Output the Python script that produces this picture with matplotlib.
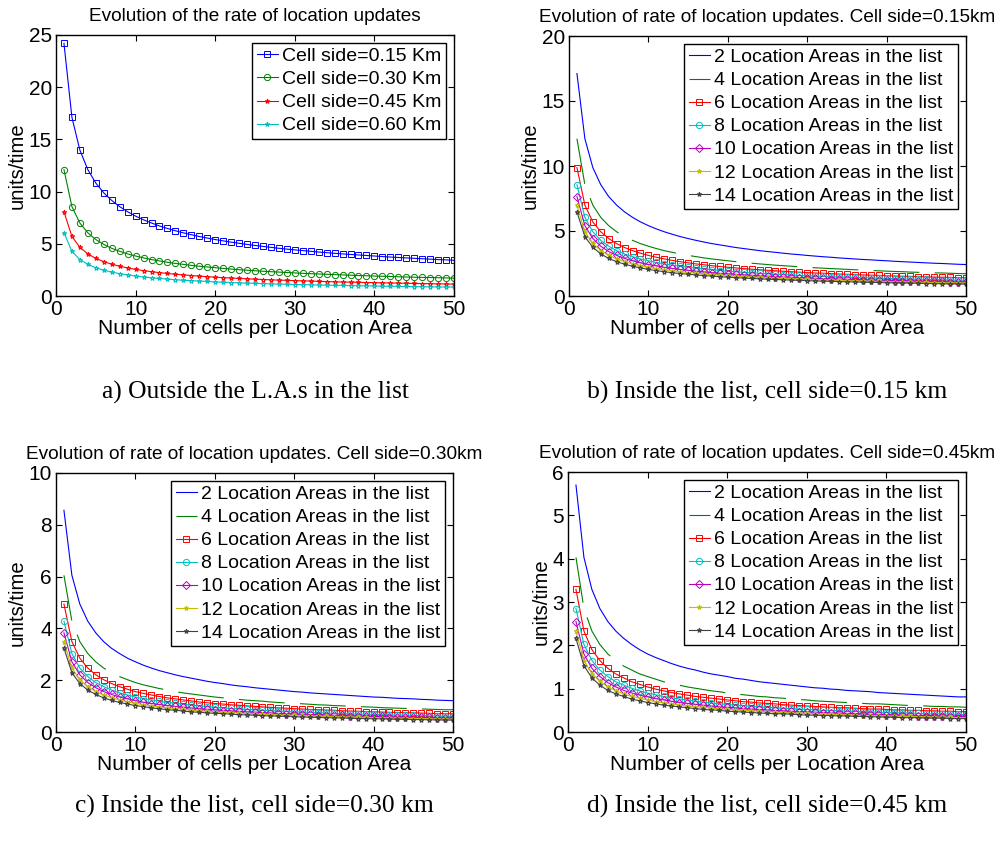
import matplotlib
matplotlib.use("Agg")
import matplotlib.pyplot as plt

# number of cells per Location Area
cells = list(range(1, 51))

# a) outside the L.A.s in the list, one series per cell side
out_015 = [24.20, 17.11, 13.97, 12.10, 10.82, 9.88, 9.15, 8.56, 8.07, 7.65,
           7.30, 6.99, 6.71, 6.47, 6.25, 6.05, 5.87, 5.70, 5.55, 5.41,
           5.28, 5.16, 5.05, 4.94, 4.84, 4.75, 4.66, 4.57, 4.49, 4.42,
           4.35, 4.28, 4.21, 4.15, 4.09, 4.03, 3.98, 3.93, 3.88, 3.83,
           3.78, 3.73, 3.69, 3.65, 3.61, 3.57, 3.53, 3.49, 3.46, 3.42]
out_030 = [12.10, 8.56, 6.99, 6.05, 5.41, 4.94, 4.57, 4.28, 4.03, 3.83,
           3.65, 3.49, 3.36, 3.23, 3.12, 3.03, 2.93, 2.85, 2.78, 2.71,
           2.64, 2.58, 2.52, 2.47, 2.42, 2.37, 2.33, 2.29, 2.25, 2.21,
           2.17, 2.14, 2.11, 2.08, 2.05, 2.02, 1.99, 1.96, 1.94, 1.91,
           1.89, 1.87, 1.84, 1.82, 1.80, 1.78, 1.77, 1.75, 1.73, 1.71]
out_045 = [8.07, 5.70, 4.66, 4.03, 3.61, 3.29, 3.05, 2.85, 2.69, 2.55,
           2.43, 2.33, 2.24, 2.16, 2.08, 2.02, 1.96, 1.90, 1.85, 1.80,
           1.76, 1.72, 1.68, 1.65, 1.61, 1.58, 1.55, 1.52, 1.50, 1.47,
           1.45, 1.43, 1.40, 1.38, 1.36, 1.34, 1.33, 1.31, 1.29, 1.28,
           1.26, 1.25, 1.23, 1.22, 1.20, 1.19, 1.18, 1.16, 1.15, 1.14]
out_060 = [6.05, 4.28, 3.49, 3.03, 2.71, 2.47, 2.29, 2.14, 2.02, 1.91,
           1.82, 1.75, 1.68, 1.62, 1.56, 1.51, 1.47, 1.43, 1.39, 1.35,
           1.32, 1.29, 1.26, 1.23, 1.21, 1.19, 1.16, 1.14, 1.12, 1.10,
           1.09, 1.07, 1.05, 1.04, 1.02, 1.01, 0.99, 0.98, 0.97, 0.96,
           0.94, 0.93, 0.92, 0.91, 0.90, 0.89, 0.88, 0.87, 0.86, 0.86]

# b) inside the list, cell side 0.15 km (2..14 L.A.s in the list)
in015_2 = [17.11, 12.10, 9.88, 8.56, 7.65, 6.99, 6.47, 6.05, 5.70, 5.41,
           5.16, 4.94, 4.75, 4.57, 4.42, 4.28, 4.15, 4.03, 3.93, 3.83,
           3.73, 3.65, 3.57, 3.49, 3.42, 3.36, 3.29, 3.23, 3.18, 3.12,
           3.07, 3.02, 2.98, 2.93, 2.89, 2.85, 2.81, 2.78, 2.74, 2.71,
           2.67, 2.64, 2.61, 2.58, 2.55, 2.52, 2.50, 2.47, 2.44, 2.42]
in015_4 = [12.10, 8.56, 6.99, 6.05, 5.41, 4.94, 4.57, 4.28, 4.03, 3.83,
           3.65, 3.49, 3.36, 3.23, 3.12, 3.03, 2.93, 2.85, 2.78, 2.71,
           2.64, 2.58, 2.52, 2.47, 2.42, 2.37, 2.33, 2.29, 2.25, 2.21,
           2.17, 2.14, 2.11, 2.08, 2.05, 2.02, 1.99, 1.96, 1.94, 1.91,
           1.89, 1.87, 1.84, 1.82, 1.80, 1.78, 1.77, 1.75, 1.73, 1.71]
in015_6 = [9.88, 6.99, 5.70, 4.94, 4.42, 4.03, 3.73, 3.49, 3.29, 3.12,
           2.98, 2.85, 2.74, 2.64, 2.55, 2.47, 2.40, 2.33, 2.27, 2.21,
           2.16, 2.11, 2.06, 2.02, 1.98, 1.94, 1.90, 1.87, 1.83, 1.80,
           1.77, 1.75, 1.72, 1.69, 1.67, 1.65, 1.62, 1.60, 1.58, 1.56,
           1.54, 1.52, 1.51, 1.49, 1.47, 1.46, 1.44, 1.43, 1.41, 1.40]
in015_8 = [8.56, 6.05, 4.94, 4.28, 3.83, 3.49, 3.23, 3.03, 2.85, 2.71,
           2.58, 2.47, 2.37, 2.29, 2.21, 2.14, 2.08, 2.02, 1.96, 1.91,
           1.87, 1.82, 1.78, 1.75, 1.71, 1.68, 1.65, 1.62, 1.59, 1.56,
           1.54, 1.51, 1.49, 1.47, 1.45, 1.43, 1.41, 1.39, 1.37, 1.35,
           1.34, 1.32, 1.30, 1.29, 1.28, 1.26, 1.25, 1.23, 1.22, 1.21]
in015_10 = [7.65, 5.41, 4.42, 3.83, 3.42, 3.12, 2.89, 2.71, 2.55, 2.42,
            2.31, 2.21, 2.12, 2.04, 1.98, 1.91, 1.86, 1.80, 1.75, 1.71,
            1.67, 1.63, 1.60, 1.56, 1.53, 1.50, 1.47, 1.45, 1.42, 1.40,
            1.37, 1.35, 1.33, 1.31, 1.29, 1.28, 1.26, 1.24, 1.22, 1.21,
            1.19, 1.18, 1.17, 1.15, 1.14, 1.13, 1.12, 1.10, 1.09, 1.08]
in015_12 = [6.99, 4.94, 4.04, 3.49, 3.13, 2.85, 2.64, 2.47, 2.33, 2.21,
            2.11, 2.02, 1.94, 1.87, 1.80, 1.75, 1.70, 1.65, 1.60, 1.56,
            1.53, 1.49, 1.46, 1.43, 1.40, 1.37, 1.35, 1.32, 1.30, 1.28,
            1.26, 1.24, 1.22, 1.20, 1.18, 1.17, 1.15, 1.13, 1.12, 1.11,
            1.09, 1.08, 1.07, 1.05, 1.04, 1.03, 1.02, 1.01, 1.00, 0.99]
in015_14 = [6.47, 4.57, 3.74, 3.24, 2.89, 2.64, 2.45, 2.29, 2.16, 2.05,
            1.95, 1.87, 1.79, 1.73, 1.67, 1.62, 1.57, 1.53, 1.48, 1.45,
            1.41, 1.38, 1.35, 1.32, 1.29, 1.27, 1.25, 1.22, 1.20, 1.18,
            1.16, 1.14, 1.13, 1.11, 1.09, 1.08, 1.06, 1.05, 1.04, 1.02,
            1.01, 1.00, 0.99, 0.98, 0.96, 0.95, 0.94, 0.93, 0.92, 0.91]

# c) inside the list, cell side 0.30 km
in030_2 = [8.56, 6.05, 4.94, 4.28, 3.83, 3.49, 3.23, 3.03, 2.85, 2.71,
           2.58, 2.47, 2.37, 2.29, 2.21, 2.14, 2.08, 2.02, 1.96, 1.91,
           1.87, 1.82, 1.78, 1.75, 1.71, 1.68, 1.65, 1.62, 1.59, 1.56,
           1.54, 1.51, 1.49, 1.47, 1.45, 1.43, 1.41, 1.39, 1.37, 1.35,
           1.34, 1.32, 1.30, 1.29, 1.28, 1.26, 1.25, 1.23, 1.22, 1.21]
in030_4 = [6.05, 4.28, 3.49, 3.03, 2.71, 2.47, 2.29, 2.14, 2.02, 1.91,
           1.82, 1.75, 1.68, 1.62, 1.56, 1.51, 1.47, 1.43, 1.39, 1.35,
           1.32, 1.29, 1.26, 1.23, 1.21, 1.19, 1.16, 1.14, 1.12, 1.10,
           1.09, 1.07, 1.05, 1.04, 1.02, 1.01, 0.99, 0.98, 0.97, 0.96,
           0.94, 0.93, 0.92, 0.91, 0.90, 0.89, 0.88, 0.87, 0.86, 0.86]
in030_6 = [4.94, 3.49, 2.85, 2.47, 2.21, 2.02, 1.87, 1.75, 1.65, 1.56,
           1.49, 1.43, 1.37, 1.32, 1.28, 1.24, 1.20, 1.16, 1.13, 1.10,
           1.08, 1.05, 1.03, 1.01, 0.99, 0.97, 0.95, 0.93, 0.92, 0.90,
           0.89, 0.87, 0.86, 0.85, 0.84, 0.82, 0.81, 0.80, 0.79, 0.78,
           0.77, 0.76, 0.75, 0.75, 0.74, 0.73, 0.72, 0.71, 0.71, 0.70]
in030_8 = [4.28, 3.03, 2.47, 2.14, 1.91, 1.75, 1.62, 1.51, 1.43, 1.35,
           1.29, 1.24, 1.19, 1.14, 1.11, 1.07, 1.04, 1.01, 0.98, 0.96,
           0.93, 0.91, 0.89, 0.87, 0.86, 0.84, 0.82, 0.81, 0.79, 0.78,
           0.77, 0.76, 0.75, 0.73, 0.72, 0.71, 0.70, 0.69, 0.69, 0.68,
           0.67, 0.66, 0.65, 0.65, 0.64, 0.63, 0.62, 0.62, 0.61, 0.61]
in030_10 = [3.83, 2.71, 2.21, 1.91, 1.71, 1.56, 1.45, 1.35, 1.28, 1.21,
            1.15, 1.10, 1.06, 1.02, 0.99, 0.96, 0.93, 0.90, 0.88, 0.86,
            0.83, 0.82, 0.80, 0.78, 0.77, 0.75, 0.74, 0.72, 0.71, 0.70,
            0.69, 0.68, 0.67, 0.66, 0.65, 0.64, 0.63, 0.62, 0.61, 0.60,
            0.60, 0.59, 0.58, 0.58, 0.57, 0.56, 0.56, 0.55, 0.55, 0.54]
in030_12 = [3.49, 2.47, 2.02, 1.75, 1.56, 1.43, 1.32, 1.24, 1.16, 1.11,
            1.05, 1.01, 0.97, 0.93, 0.90, 0.87, 0.85, 0.82, 0.80, 0.78,
            0.76, 0.75, 0.73, 0.71, 0.70, 0.69, 0.67, 0.66, 0.65, 0.64,
            0.63, 0.62, 0.61, 0.60, 0.59, 0.58, 0.57, 0.57, 0.56, 0.55,
            0.55, 0.54, 0.53, 0.53, 0.52, 0.52, 0.51, 0.50, 0.50, 0.49]
in030_14 = [3.24, 2.29, 1.87, 1.62, 1.45, 1.32, 1.22, 1.14, 1.08, 1.02,
            0.98, 0.93, 0.90, 0.86, 0.84, 0.81, 0.78, 0.76, 0.74, 0.72,
            0.71, 0.69, 0.67, 0.66, 0.65, 0.63, 0.62, 0.61, 0.60, 0.59,
            0.58, 0.57, 0.56, 0.55, 0.55, 0.54, 0.53, 0.52, 0.52, 0.51,
            0.51, 0.50, 0.49, 0.49, 0.48, 0.48, 0.47, 0.47, 0.46, 0.46]

# d) inside the list, cell side 0.45 km
in045_2 = [5.70, 4.03, 3.29, 2.85, 2.55, 2.33, 2.16, 2.02, 1.90, 1.80,
           1.72, 1.65, 1.58, 1.52, 1.47, 1.43, 1.38, 1.34, 1.31, 1.28,
           1.24, 1.22, 1.19, 1.16, 1.14, 1.12, 1.10, 1.08, 1.06, 1.04,
           1.02, 1.01, 0.99, 0.98, 0.96, 0.95, 0.94, 0.93, 0.91, 0.90,
           0.89, 0.88, 0.87, 0.86, 0.85, 0.84, 0.83, 0.82, 0.81, 0.81]
in045_4 = [4.03, 2.85, 2.33, 2.02, 1.80, 1.65, 1.52, 1.43, 1.34, 1.28,
           1.22, 1.16, 1.12, 1.08, 1.04, 1.01, 0.98, 0.95, 0.93, 0.90,
           0.88, 0.86, 0.84, 0.82, 0.81, 0.79, 0.78, 0.76, 0.75, 0.74,
           0.72, 0.71, 0.70, 0.69, 0.68, 0.67, 0.66, 0.65, 0.65, 0.64,
           0.63, 0.62, 0.61, 0.61, 0.60, 0.59, 0.59, 0.58, 0.58, 0.57]
in045_6 = [3.29, 2.33, 1.90, 1.65, 1.47, 1.34, 1.25, 1.16, 1.10, 1.04,
           0.99, 0.95, 0.91, 0.88, 0.85, 0.82, 0.80, 0.78, 0.76, 0.74,
           0.72, 0.70, 0.69, 0.67, 0.66, 0.65, 0.63, 0.62, 0.61, 0.60,
           0.59, 0.58, 0.57, 0.56, 0.56, 0.55, 0.54, 0.53, 0.53, 0.52,
           0.51, 0.51, 0.50, 0.50, 0.49, 0.49, 0.48, 0.48, 0.47, 0.47]
in045_8 = [2.85, 2.02, 1.65, 1.43, 1.28, 1.16, 1.08, 1.01, 0.95, 0.90,
           0.86, 0.82, 0.79, 0.76, 0.74, 0.71, 0.69, 0.67, 0.65, 0.64,
           0.62, 0.61, 0.59, 0.58, 0.57, 0.56, 0.55, 0.54, 0.53, 0.52,
           0.51, 0.50, 0.50, 0.49, 0.48, 0.48, 0.47, 0.46, 0.46, 0.45,
           0.45, 0.44, 0.44, 0.43, 0.42, 0.42, 0.42, 0.41, 0.41, 0.40]
in045_10 = [2.55, 1.80, 1.47, 1.28, 1.14, 1.04, 0.96, 0.90, 0.85, 0.81,
            0.77, 0.74, 0.71, 0.68, 0.66, 0.64, 0.62, 0.60, 0.58, 0.57,
            0.56, 0.54, 0.53, 0.52, 0.51, 0.50, 0.49, 0.48, 0.47, 0.47,
            0.46, 0.45, 0.44, 0.44, 0.43, 0.43, 0.42, 0.41, 0.41, 0.40,
            0.40, 0.39, 0.39, 0.38, 0.38, 0.38, 0.37, 0.37, 0.36, 0.36]
in045_12 = [2.33, 1.65, 1.35, 1.17, 1.04, 0.95, 0.88, 0.82, 0.78, 0.74,
            0.70, 0.67, 0.65, 0.62, 0.60, 0.58, 0.57, 0.55, 0.53, 0.52,
            0.51, 0.50, 0.49, 0.48, 0.47, 0.46, 0.45, 0.44, 0.43, 0.43,
            0.42, 0.41, 0.41, 0.40, 0.39, 0.39, 0.38, 0.38, 0.37, 0.37,
            0.36, 0.36, 0.36, 0.35, 0.35, 0.34, 0.34, 0.34, 0.33, 0.33]
in045_14 = [2.16, 1.53, 1.25, 1.08, 0.96, 0.88, 0.82, 0.76, 0.72, 0.68,
            0.65, 0.62, 0.60, 0.58, 0.56, 0.54, 0.52, 0.51, 0.50, 0.48,
            0.47, 0.46, 0.45, 0.44, 0.43, 0.42, 0.42, 0.41, 0.40, 0.39,
            0.39, 0.38, 0.38, 0.37, 0.37, 0.36, 0.36, 0.35, 0.35, 0.34,
            0.34, 0.33, 0.33, 0.33, 0.32, 0.32, 0.32, 0.31, 0.31, 0.31]

out_labels = ["Cell side=0.15 Km", "Cell side=0.30 Km",
              "Cell side=0.45 Km", "Cell side=0.60 Km"]
in_labels = [f"{k} Location Areas in the list" for k in (2, 4, 6, 8, 10, 12, 14)]

titles = ["Evolution of the rate of location updates",
          "Evolution of rate of location updates. Cell side=0.15km",
          "Evolution of rate of location updates. Cell side=0.30km",
          "Evolution of rate of location updates. Cell side=0.45km"]
captions = ["a) Outside the L.A.s in the list",
            "b) Inside the list, cell side=0.15 km",
            "c) Inside the list, cell side=0.30 km",
            "d) Inside the list, cell side=0.45 km"]
ylims = [(0, 25), (0, 20), (0, 10), (0, 6)]

# matlab-ish line styles
BLUE, GREEN, RED = (0, 0, 1), (0, 0.5, 0), (1, 0, 0)
CYAN, MAG, YEL, GRAY = (0, 0.75, 0.75), (0.75, 0, 0.75), (0.75, 0.75, 0), (0.25, 0.25, 0.25)
out_styles = [dict(color=BLUE, marker="s"), dict(color=GREEN, marker="o"),
              dict(color=RED, marker="*", ms=3.5), dict(color=CYAN, marker="*", ms=3.5)]
DASH = (0, (33, 11))
in_styles = [dict(color=BLUE), dict(color=GREEN, linestyle=DASH),
             dict(color=RED, marker="s"), dict(color=CYAN, marker="o"),
             dict(color=MAG, marker="D", ms=3.8), dict(color=YEL, marker="*", ms=3.5),
             dict(color=GRAY, marker="*", ms=3.5)]

plt.rcParams["font.family"] = ["Liberation Sans", "DejaVu Sans"]
plt.rcParams["lines.scale_dashes"] = False

W, H = 1006, 843
fig = plt.figure(figsize=(W / 100, H / 100), dpi=100)


def px_rect(l, t, r, b):
    return [l / W, 1 - b / H, (r - l) / W, (b - t) / H]


rects = [px_rect(56, 35, 454, 296), px_rect(569, 36, 966, 296),
         px_rect(56, 473, 453, 732), px_rect(568, 472, 966, 732)]

panels = [
    ([out_015, out_030, out_045, out_060], out_labels, out_styles),
    ([in015_2, in015_4, in015_6, in015_8, in015_10, in015_12, in015_14], in_labels, in_styles),
    ([in030_2, in030_4, in030_6, in030_8, in030_10, in030_12, in030_14], in_labels, in_styles),
    ([in045_2, in045_4, in045_6, in045_8, in045_10, in045_12, in045_14], in_labels, in_styles),
]

for i, (series, labels, styles) in enumerate(panels):
    ax = fig.add_axes(rects[i])
    for ys, lab, st in zip(series, labels, styles):
        kw = dict(lw=0.8, ms=4.5, mfc="none", mew=0.7)
        kw.update(st)
        ax.plot(cells, ys, label=lab, **kw)
    ax.set_xlim(0, 50)
    ax.set_ylim(*ylims[i])
    ax.set_xticks(range(0, 51, 10))
    ax.tick_params(direction="in", top=True, right=True, length=4, width=0.8,
                   labelsize=15, pad=3)
    for sp in ax.spines.values():
        sp.set_linewidth(1.0)
    ax.set_title(titles[i], fontsize=13.7, pad=10)
    ax.set_xlabel("Number of cells per Location Area", fontsize=15, labelpad=0)
    ax.set_ylabel("units/time", fontsize=14.6, labelpad=1)
    leg = ax.legend(loc="upper right", fontsize=14, frameon=True, fancybox=False,
                    edgecolor="black", framealpha=1, handlelength=1.1,
                    handletextpad=0.2, labelspacing=0.28, borderpad=0.25,
                    borderaxespad=0.4)
    leg.get_frame().set_linewidth(1.0)
    cx = (rects[i][0] + rects[i][2] / 2)
    cy = 1 - (392 if i < 2 else 806) / H
    fig.text(cx, cy, captions[i], ha="center", va="center", fontsize=18.4,
             family=["Liberation Serif", "DejaVu Serif"])

fig.savefig("out.png", dpi=100)
